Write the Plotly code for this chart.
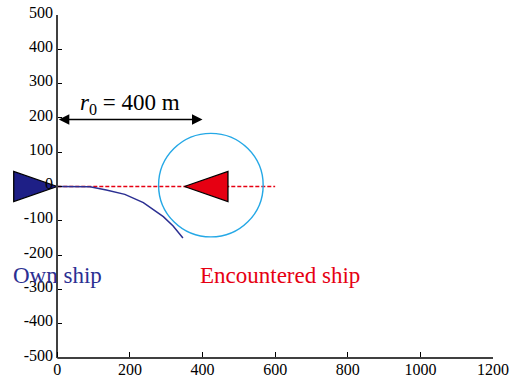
import plotly.graph_objects as go

# ---- data (metres) ----
# own ship trajectory during the manoeuvre
track_x = [0, 90, 135, 186, 237, 292, 319, 346]
track_y = [0, -1, -10, -23, -47, -88, -115, -150]

# bow positions of both ships and their heading (+1 east, -1 west)
own_bow = [0, 0]
own_dir = 1
enc_bow = [350, 0]
enc_dir = -1

# encountered ship domain: centre and semi-axes
domain_centre = [423, 4]
domain_radius = [144, 151]

# initial separation and where the measuring arrow is drawn
r0 = 400
r0_level = 195

# line of sight between the ships
los_x = [0, 600]
los_y = [0, 0]

# label anchors
own_label = [0, -260]
enc_label = [614, -260]

x_ticks = [0, 200, 400, 600, 800, 1000, 1200]
y_ticks = [-500, -400, -300, -200, -100, 0, 100, 200, 300, 400, 500]

# ---- drawing helpers ----
HULL_LEN = 120
HULL_BEAM = 88


def hull(bow, direction):
    bx, by = bow
    sx = bx - direction * HULL_LEN
    return [bx, sx, sx, bx], [by, by + HULL_BEAM / 2, by - HULL_BEAM / 2, by]


FONT = "Liberation Serif"
NAVY = "#2b2f92"
RED = "#e60012"

X_MIN = -157.8
X_MAX = 1200

fig = go.Figure()

fig.add_trace(go.Scatter(x=los_x, y=los_y, mode="lines",
                         line=dict(color=RED, width=1.5, dash="4px,2px"),
                         hoverinfo="skip"))
fig.add_trace(go.Scatter(x=track_x, y=track_y, mode="lines",
                         line=dict(color=NAVY, width=1.5),
                         hoverinfo="skip"))

ox, oy = hull(own_bow, own_dir)
fig.add_trace(go.Scatter(x=ox, y=oy, mode="lines", fill="toself",
                         fillcolor="#1e1f86",
                         line=dict(color="black", width=1.3),
                         hoverinfo="skip"))
ex, ey = hull(enc_bow, enc_dir)
fig.add_trace(go.Scatter(x=ex, y=ey, mode="lines", fill="toself",
                         fillcolor=RED,
                         line=dict(color="black", width=1.3),
                         hoverinfo="skip"))

# ship domain circle
fig.add_shape(type="circle", xref="x", yref="y",
              x0=domain_centre[0] - domain_radius[0],
              x1=domain_centre[0] + domain_radius[0],
              y0=domain_centre[1] - domain_radius[1],
              y1=domain_centre[1] + domain_radius[1],
              line=dict(color="#25a8e6", width=1.4))

# bottom axis line, only across the positive x range
fig.add_shape(type="line", xref="x", yref="paper",
              x0=x_ticks[0], x1=x_ticks[-1], y0=0, y1=0,
              line=dict(color="#404040", width=2))

# separation arrow
fig.add_annotation(x=r0, y=r0_level, ax=0, ay=r0_level,
                   xref="x", yref="y", axref="x", ayref="y",
                   text="", showarrow=True, arrowside="end+start",
                   arrowhead=2, arrowsize=1.4, arrowwidth=1.5,
                   arrowcolor="black", standoff=0, startstandoff=0)
fig.add_annotation(x=r0 / 2, y=r0_level + 46, xref="x", yref="y",
                   text=f"<i>r</i><sub>0</sub> = {r0} m", showarrow=False,
                   font=dict(family=FONT, size=23, color="black"))

fig.add_annotation(x=own_label[0], y=own_label[1], xref="x", yref="y",
                   text="Own ship", showarrow=False,
                   font=dict(family=FONT, size=23, color=NAVY))
fig.add_annotation(x=enc_label[0], y=enc_label[1], xref="x", yref="y",
                   text="Encountered ship", showarrow=False,
                   font=dict(family=FONT, size=23, color=RED))

fig.update_layout(
    width=510, height=383,
    margin=dict(l=0, r=17, t=15, b=25),
    paper_bgcolor="white", plot_bgcolor="white",
    showlegend=False,
    font=dict(family=FONT, size=16, color="black"),
    xaxis=dict(range=[X_MIN, X_MAX], showline=False, showgrid=False,
               zeroline=False, tickmode="array", tickvals=x_ticks,
               ticktext=[str(v) for v in x_ticks],
               ticks="inside", ticklen=6, tickwidth=1, tickcolor="black",
               tickfont=dict(family=FONT, size=16, color="black"),
               automargin=False, fixedrange=True),
    yaxis=dict(range=[-500, 500], anchor="free",
               position=(0 - X_MIN) / (X_MAX - X_MIN),
               showline=True, linecolor="#404040", linewidth=2,
               showgrid=False, zeroline=False, tickmode="array",
               tickvals=y_ticks, ticktext=[str(v) for v in y_ticks],
               ticks="inside", ticklen=4, tickwidth=1,
               tickcolor="black", ticklabelshift=-3,
               tickfont=dict(family=FONT, size=16, color="black"),
               automargin=False, fixedrange=True),
)

fig.write_html("out.html", config={"displayModeBar": False})
